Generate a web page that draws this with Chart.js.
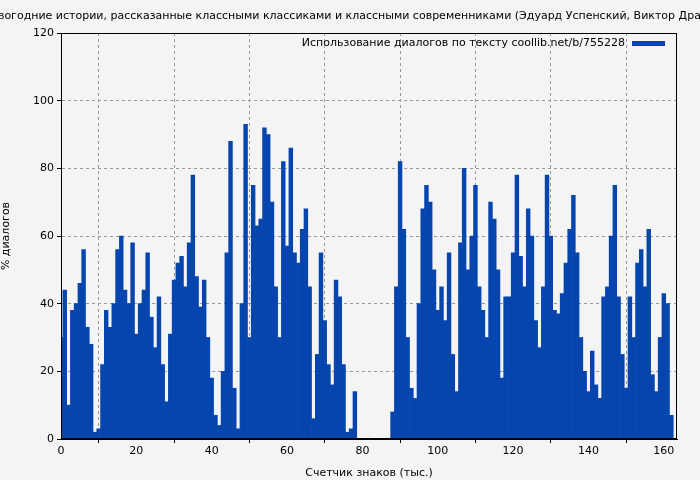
<!DOCTYPE html>
<html>
<head>
<meta charset="utf-8">
<script src="https://cdn.jsdelivr.net/npm/chart.js@4/dist/chart.umd.min.js"></script>
<style>
  html, body { margin: 0; padding: 0; background: #f4f4f4; }
  #wrap { width: 700px; height: 480px; }
</style>
</head>
<body>
<div id="wrap"><canvas id="dialogChart"></canvas></div>
<script>
// Данные: счётчик знаков (тыс.) и процент диалогов
const titleText = "Весёлые новогодние истории, рассказанные классными классиками и классными современниками (Эдуард Успенский, Виктор Драгунский, ...)";
const legendText = "Использование диалогов по тексту coollib.net/b/755228";
const xTicks = [0, 20, 40, 60, 80, 100, 120, 140, 160];
const yTicks = [0, 20, 40, 60, 80, 100, 120];
const dialogValues = [
  30, 44, 10, 38, 40, 46, 56, 33, 28, 2,
  3, 22, 38, 33, 40, 56, 60, 44, 40, 58,
  31, 40, 44, 55, 36, 27, 42, 22, 11, 31,
  47, 52, 54, 45, 58, 78, 48, 39, 47, 30,
  18, 7, 4, 20, 55, 88, 15, 3, 40, 93,
  30, 75, 63, 65, 92, 90, 70, 45, 30, 82,
  57, 86, 55, 52, 62, 68, 45, 6, 25, 55,
  35, 22, 16, 47, 42, 22, 2, 3, 14, 0,
  0, 0, 0, 0, 0, 0, 0, 0, 8, 45,
  82, 62, 30, 15, 12, 40, 68, 75, 70, 50,
  38, 45, 35, 55, 25, 14, 58, 80, 50, 60,
  75, 45, 38, 30, 70, 65, 50, 18, 42, 42,
  55, 78, 54, 45, 68, 60, 35, 27, 45, 78,
  60, 38, 37, 43, 52, 62, 72, 55, 30, 20,
  14, 26, 16, 12, 42, 45, 60, 75, 42, 25,
  15, 42, 30, 52, 56, 45, 62, 19, 14, 30,
  43, 40, 7
];

const points = dialogValues.map((v, i) => ({ x: i, y: v }));

// Заголовок и легенда рисуются вручную
const decorPlugin = {
  id: "decor",
  afterDraw(chart) {
    const ctx = chart.ctx;
    const area = chart.chartArea;
    ctx.save();
    ctx.fillStyle = "#000";
    ctx.font = "11px 'DejaVu Sans'";
    ctx.textAlign = "center";
    ctx.textBaseline = "middle";
    ctx.fillText(titleText, 350, 16);
    ctx.textAlign = "right";
    ctx.fillText(legendText, area.right - 52, 43);
    ctx.fillStyle = "#0645ad";
    ctx.fillRect(area.right - 45, 41, 33, 5);
    ctx.restore();
  },
};

const gridStyle = {
  color: "#999",
  tickColor: "#000",
  tickLength: 4,
};

new Chart(document.getElementById("dialogChart"), {
  type: "bar",
  data: {
    datasets: [
      {
        label: legendText,
        data: points,
        backgroundColor: "#0645ad",
        borderWidth: 0,
        barPercentage: 1,
        categoryPercentage: 1,
      },
    ],
  },
  options: {
    responsive: true,
    maintainAspectRatio: false,
    animation: false,
    layout: { padding: { top: 33, right: 23, left: 0, bottom: 0 } },
    plugins: {
      legend: { display: false },
      tooltip: { enabled: false },
    },
    scales: {
      x: {
        type: "linear",
        min: 0,
        max: 163.5,
        offset: false,
        afterBuildTicks(scale) {
          scale.ticks = xTicks.map((v) => ({ value: v }));
        },
        afterFit(scale) {
          scale.height = 41;
        },
        ticks: { color: "#000", font: { family: "DejaVu Sans", size: 11 }, padding: 2 },
        grid: gridStyle,
        border: { color: "#000", dash: [3, 3] },
        title: {
          display: true,
          text: "Счетчик знаков (тыс.)",
          color: "#000",
          font: { family: "DejaVu Sans", size: 11 },
          padding: { top: 0, bottom: 0 },
        },
      },
      y: {
        min: 0,
        max: 120,
        afterBuildTicks(scale) {
          scale.ticks = yTicks.map((v) => ({ value: v }));
        },
        afterFit(scale) {
          scale.width = 61;
        },
        ticks: { color: "#000", font: { family: "DejaVu Sans", size: 11 }, padding: 3 },
        grid: gridStyle,
        border: { color: "#000", dash: [3, 3] },
        title: {
          display: true,
          text: "% диалогов",
          color: "#000",
          font: { family: "DejaVu Sans", size: 11 },
          padding: { top: 0, bottom: 8 },
        },
      },
    },
  },
  plugins: [
    decorPlugin,
    {
      id: "frame",
      afterDraw(chart) {
        const { ctx, chartArea: a } = chart;
        ctx.save();
        ctx.strokeStyle = "#000";
        ctx.lineWidth = 1;
        ctx.strokeRect(a.left + 0.5, a.top + 0.5, a.width - 1, a.height - 1);
        ctx.restore();
      },
    },
  ],
});
</script>
</body>
</html>
